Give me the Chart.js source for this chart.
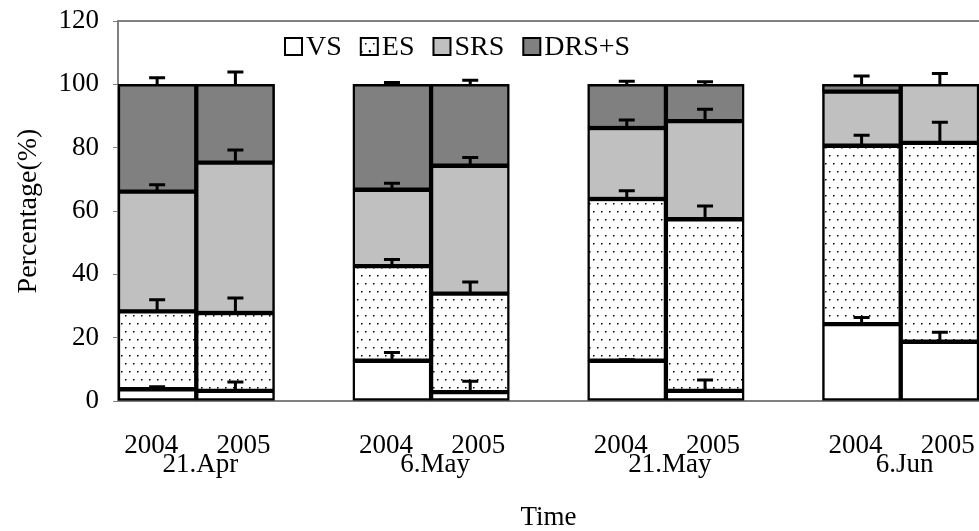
<!DOCTYPE html>
<html>
<head>
<meta charset="utf-8">
<script src="https://cdn.jsdelivr.net/npm/chart.js@4.4.1/dist/chart.umd.min.js"></script>
<style>
  html, body { margin: 0; padding: 0; background: #fff; overflow: hidden; }
  #wrap { width: 979px; height: 531px; }
</style>
</head>
<body>
<div id="wrap"><canvas id="chart" width="979" height="531"></canvas></div>
<script>
// 11 slots: two bars per date, one empty slot between dates
const years = ['2004', '2005', '', '2004', '2005', '', '2004', '2005', '', '2004', '2005'];
const dates = ['21.Apr', '6.May', '21.May', '6.Jun'];
const seriesNames = ['VS', 'ES', 'SRS', 'DRS+S'];

// segment heights (%)
const vs  = [3.7, 3.2, null, 12.7, 2.8, null, 12.7, 3.2, null, 24.3, 18.7];
const es  = [24.6, 24.6, null, 29.9, 31.1, null, 51.1, 54.2, null, 56.3, 62.8];
const srs = [37.8, 47.5, null, 24.1, 40.4, null, 22.4, 31.0, null, 17.1, 18.5];
const drs = [33.9, 24.7, null, 33.3, 25.7, null, 13.8, 11.6, null, 2.3, null];

// upper error (%)
const vsErr  = [0.8, 2.8, null, 2.6, 3.4, null, 0.3, 3.4, null, 2.1, 3.0];
const esErr  = [3.7, 4.7, null, 2.1, 3.7, null, 2.6, 4.2, null, 3.3, 6.5];
const srsErr = [2.2, 4.0, null, 2.1, 2.6, null, 2.5, 3.7, null, 0, 3.4];
const drsErr = [2.1, 3.9, null, 0.6, 1.3, null, 1.0, 0.8, null, 2.6, null];

const yTicks = [0, 20, 40, 60, 80, 100, 120];

const FONT = "'Liberation Serif', 'DejaVu Serif', serif";

function dotPattern() {
    const c = document.createElement('canvas');
    c.width = 8;
    c.height = 16;
    const g = c.getContext('2d');
    g.fillStyle = '#fff';
    g.fillRect(0, 0, 8, 16);
    g.fillStyle = '#000';
    g.fillRect(1, 3, 1.5, 1.5);
    g.fillRect(5, 11, 1.5, 1.5);
    return g.createPattern(c, 'repeat');
}

const fills = ['#ffffff', dotPattern(), '#c0c0c0', '#808080'];
const errors = [vsErr, esErr, srsErr, drsErr];

// frame line on top of the plot
const framePlugin = {
    id: 'frame',
    beforeDatasetsDraw(chart) {
        const { ctx, chartArea } = chart;
        ctx.save();
        ctx.strokeStyle = '#808080';
        ctx.lineWidth = 2;
        ctx.beginPath();
        ctx.moveTo(chartArea.left, chartArea.top);
        ctx.lineTo(chartArea.right + 5, chartArea.top);
        ctx.stroke();
        ctx.restore();
    }
};

// error bars, only upward
const errorPlugin = {
    id: 'errorBars',
    afterDatasetsDraw(chart) {
        const { ctx } = chart;
        const yScale = chart.scales.y;
        ctx.save();
        ctx.strokeStyle = '#000';
        ctx.lineWidth = 3;
        chart.data.datasets.forEach((ds, i) => {
            const meta = chart.getDatasetMeta(i);
            meta.data.forEach((bar, j) => {
                const v = ds.data[j];
                const e = errors[i][j];
                if (v == null || !e) return;
                let top = 0;
                for (let k = 0; k <= i; k++) top += chart.data.datasets[k].data[j] || 0;
                const y0 = yScale.getPixelForValue(top);
                const y1 = yScale.getPixelForValue(top + e);
                ctx.beginPath();
                ctx.moveTo(bar.x, y0);
                ctx.lineTo(bar.x, y1);
                ctx.moveTo(bar.x - 8, y1);
                ctx.lineTo(bar.x + 8, y1);
                ctx.stroke();
            });
        });
        ctx.restore();
    }
};

// legend inside the plot + x labels
const textPlugin = {
    id: 'texts',
    afterDraw(chart) {
        const { ctx, chartArea } = chart;
        const xScale = chart.scales.x;
        ctx.save();
        ctx.fillStyle = '#000';

        // legend
        ctx.font = '28px ' + FONT;
        ctx.textBaseline = 'middle';
        ctx.textAlign = 'left';
        let lx = 285;
        const ly = 47;
        chart.data.datasets.forEach((ds, i) => {
            ctx.fillStyle = fills[i];
            ctx.fillRect(lx, ly - 9, 17, 17);
            ctx.strokeStyle = '#000';
            ctx.lineWidth = 2;
            ctx.strokeRect(lx, ly - 9, 17, 17);
            if (i === 1) {
                ctx.fillStyle = '#000';
                ctx.fillRect(lx + 8, ly + 3, 2, 2);
            }
            ctx.fillStyle = '#000';
            ctx.fillText(ds.label, lx + 21, ly + 1);
            lx += 21 + ctx.measureText(ds.label).width + 19;
        });

        // year labels and date labels
        ctx.font = '27px ' + FONT;
        ctx.textAlign = 'center';
        ctx.textBaseline = 'alphabetic';
        years.forEach((y, i) => {
            if (!y) return;
            const off = y === '2004' ? -6 : 8;
            ctx.fillText(y, xScale.getPixelForValue(i) + off, 453);
        });
        dates.forEach((d, g) => {
            const x = (xScale.getPixelForValue(g * 3) + xScale.getPixelForValue(g * 3 + 1)) / 2 + 4;
            ctx.fillText(d, x, 472);
        });

        ctx.fillText('Time', (chartArea.left + chartArea.right) / 2, 525);
        ctx.restore();
    }
};

const datasets = [vs, es, srs, drs].map((data, i) => ({
    label: seriesNames[i],
    data: data,
    backgroundColor: fills[i],
    borderColor: '#000',
    borderWidth: 2.5,
    borderSkipped: false,
    categoryPercentage: 1.0,
    barPercentage: 1.0
}));

new Chart(document.getElementById('chart').getContext('2d'), {
    type: 'bar',
    data: {
        labels: years,
        datasets: datasets
    },
    options: {
        responsive: false,
        animation: false,
        devicePixelRatio: 1,
        layout: {
            padding: { top: 21, right: 0, bottom: 130, left: 0 }
        },
        plugins: {
            legend: { display: false },
            tooltip: { enabled: false }
        },
        scales: {
            x: {
                stacked: true,
                grid: { display: false },
                border: { display: true, color: '#808080', width: 2 },
                ticks: { display: false },
                afterFit(scale) { scale.height = 0; }
            },
            y: {
                stacked: true,
                min: 0,
                max: 120,
                afterBuildTicks(scale) {
                    scale.ticks = yTicks.map(v => ({ value: v }));
                },
                afterFit(scale) {
                    scale.width = 118;
                    scale.paddingTop = 0;
                    scale.paddingBottom = 0;
                },
                grid: {
                    drawOnChartArea: false,
                    tickLength: 5,
                    color: '#808080'
                },
                border: { display: true, color: '#808080', width: 2 },
                ticks: {
                    color: '#000',
                    padding: 14,
                    font: { family: FONT, size: 27 }
                },
                title: {
                    display: true,
                    text: 'Percentage(%)',
                    color: '#000',
                    padding: { top: 12, bottom: 0 },
                    font: { family: FONT, size: 28 }
                }
            }
        }
    },
    plugins: [framePlugin, errorPlugin, textPlugin]
});
</script>
</body>
</html>
